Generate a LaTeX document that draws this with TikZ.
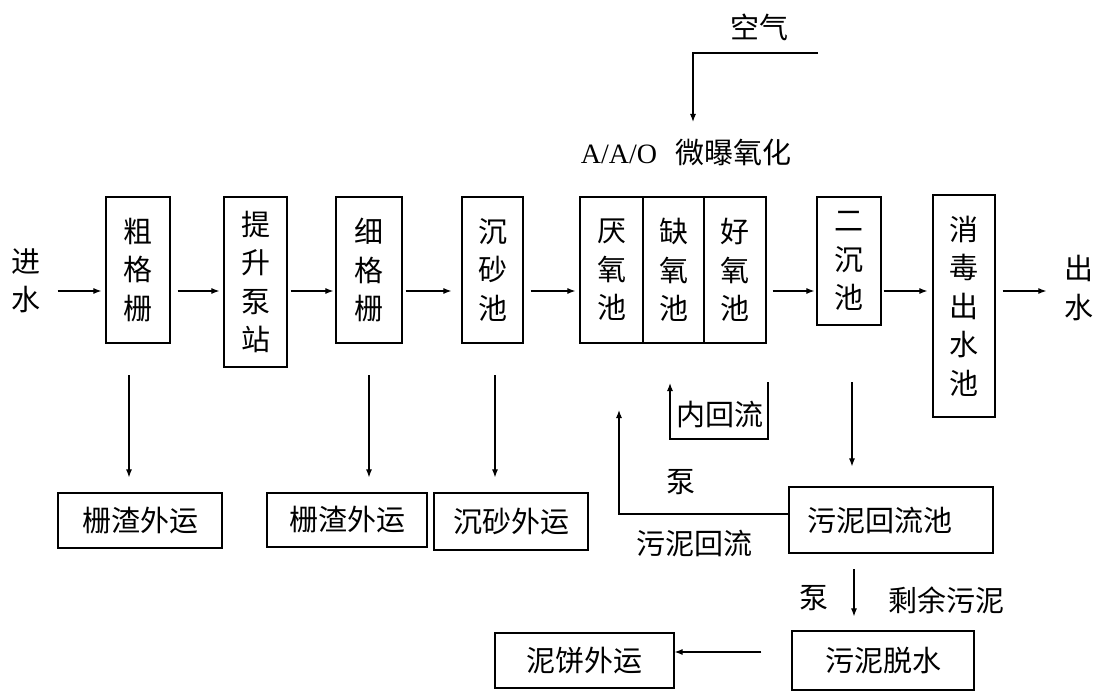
\documentclass[tikz,border=0pt]{standalone}
\usepackage{fontspec}
\setmainfont{Liberation Serif}
\newfontfamily\cjk{Noto Sans CJK SC}
\usetikzlibrary{arrows.meta}
\begin{document}
\begin{tikzpicture}[x=1pt,y=-1pt,
  box/.style={draw,line width=1.2pt,inner sep=0pt,align=center,font=\cjk\fontsize{29}{38.5}\selectfont},
  lbl/.style={inner sep=0pt,align=center,font=\cjk\fontsize{29}{38.5}\selectfont},
  flow/.style={line width=1.1pt,-{Latex[length=8pt,width=6pt]}}]
\useasboundingbox (0,0) rectangle (1100,695);
% main line
\node[box,minimum width=64pt,minimum height=146pt] (cgs) at (138,270) {粗\\格\\栅};
\node[box,minimum width=63pt,minimum height=170pt] (tsbz) at (255.5,282) {提\\升\\泵\\站};
\node[box,minimum width=66pt,minimum height=146pt] (xgs) at (369,270) {细\\格\\栅};
\node[box,minimum width=61pt,minimum height=146pt] (csc) at (492.5,270) {沉\\砂\\池};
\node[box,minimum width=63pt,minimum height=146pt] (yy) at (611.5,270) {厌\\氧\\池};
\node[box,minimum width=61pt,minimum height=146pt] (qy) at (673.5,270) {缺\\氧\\池};
\node[box,minimum width=62pt,minimum height=146pt] (hy) at (735,270) {好\\氧\\池};
\node[box,minimum width=64pt,minimum height=128pt] (ecc) at (849,261) {二\\沉\\池};
\node[box,minimum width=62pt,minimum height=222pt] (xd) at (964,306) {消\\毒\\出\\水\\池};
\node[lbl] (jin) at (26,281) {进\\水};
\node[lbl] (chu) at (1079,288) {出\\水};
% air
\node[lbl] (kq) at (759,27) {空气};
\node[lbl] (aao) at (686,153) {{\rmfamily\fontsize{28}{30}\selectfont A/A/O}\hspace*{18pt}微曝氧化};
\coordinate (air1) at (818,53);
\coordinate (air2) at (693,122);
\draw[flow] (air1) -| (air2);
% flow arrows
\coordinate (fy) at (0,291);
\draw[flow,shorten <=17pt,shorten >=4pt] (jin.east |- fy) -- (cgs.west |- fy);
\draw[flow,shorten <=7pt,shorten >=4pt] (cgs.east |- fy) -- (tsbz.west |- fy);
\draw[flow,shorten <=3pt,shorten >=2pt] (tsbz.east |- fy) -- (xgs.west |- fy);
\draw[flow,shorten <=3pt,shorten >=10pt] (xgs.east |- fy) -- (csc.west |- fy);
\draw[flow,shorten <=7pt,shorten >=4pt] (csc.east |- fy) -- (yy.west |- fy);
\draw[flow,shorten <=6pt,shorten >=2pt] (hy.east |- fy) -- (ecc.west |- fy);
\draw[flow,shorten <=2pt,shorten >=5pt] (ecc.east |- fy) -- (xd.west |- fy);
\draw[flow,shorten <=7pt,shorten >=18pt] (xd.east |- fy) -- (chu.west |- fy);
% bottom boxes
\node[box,minimum width=164pt,minimum height=55pt] (zz1) at (140,520.5) {栅渣外运};
\node[box,minimum width=160pt,minimum height=54pt] (zz2) at (347,520) {栅渣外运};
\node[box,minimum width=154pt,minimum height=57pt] (cswy) at (511,521.5) {沉砂外运};
\node[box,minimum width=204pt,minimum height=66pt] (hlc) at (891,520) {污泥回流池\hspace*{22pt}};
\node[box,minimum width=182pt,minimum height=59pt] (tsh) at (883,660.5) {污泥脱水};
\node[box,minimum width=179pt,minimum height=55pt] (njwy) at (584.5,660.5) {泥饼外运};
% down arrows
\coordinate (d1) at (129,375);
\coordinate (d2) at (369,375);
\coordinate (d3) at (495,375);
\draw[flow,shorten >=15pt] (d1) -- (d1 |- zz1.north);
\draw[flow,shorten >=15pt] (d2) -- (d2 |- zz2.north);
\draw[flow,shorten >=15pt] (d3) -- (d3 |- cswy.north);
\coordinate (d4) at (852,382);
\draw[flow,shorten >=20pt] (d4) -- (d4 |- hlc.north);
\coordinate (d5) at (854,569);
\draw[flow,shorten >=14pt] (d5) -- (d5 |- tsh.north);
% sludge return
\coordinate (hr) at (619,410);
\coordinate (hry) at (0,514);
\draw[flow] (hlc.west |- hry) -| (hr);
% internal return
\coordinate (nrR) at (768,382);
\coordinate (nrB) at (768,439);
\coordinate (nrL) at (670,439);
\coordinate (nrT) at (670,383);
\draw[flow] (nrR) -- (nrB) -- (nrL) -- (nrT);
\node[lbl] (nhl) at (720,415) {内回流};
\node[lbl] (b1) at (681,482) {泵};
\node[lbl] (hlt) at (694,543) {污泥回流};
\node[lbl] (b2) at (814,598) {泵};
\node[lbl] (sy) at (946,600) {剩余污泥};
% cake
\coordinate (cy) at (0,652);
\draw[flow,shorten <=30pt] (tsh.west |- cy) -- (njwy.east |- cy);
\end{tikzpicture}
\end{document}
